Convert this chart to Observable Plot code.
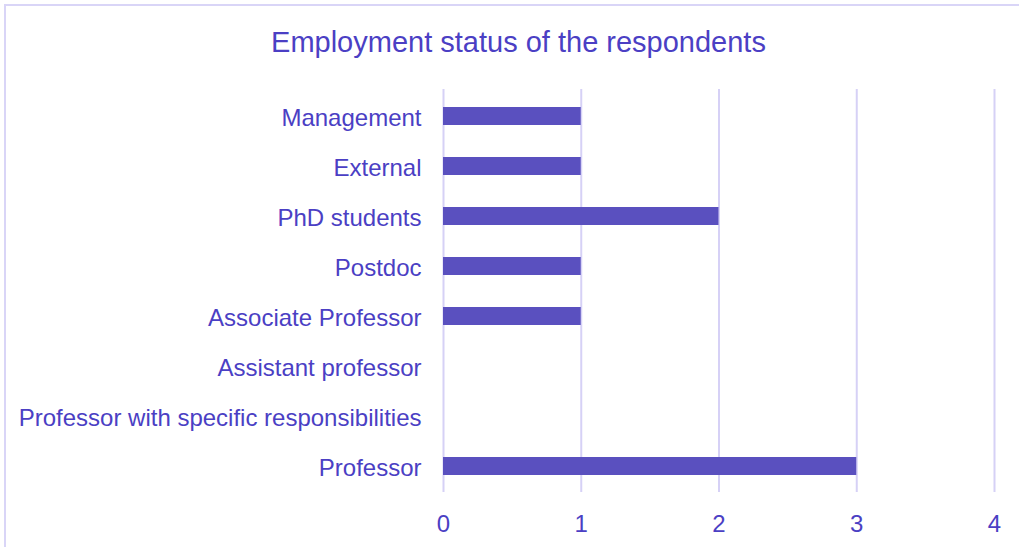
<!DOCTYPE html>
<html>
<head>
<meta charset="utf-8">
<script src="https://cdn.jsdelivr.net/npm/d3@7"></script>
<script src="https://cdn.jsdelivr.net/npm/@observablehq/plot@0.6"></script>
<style>
  html, body { margin: 0; padding: 0; background: #fff; }
  body { width: 1019px; height: 547px; overflow: hidden; position: relative; font-family: "Liberation Sans", Arial, sans-serif; }
  #frame { position: absolute; left: 4px; top: 4px; width: 1100px; height: 600px; border-top: 2px solid #d9d5f7; border-left: 2px solid #d9d5f7; pointer-events: none; }
  #title { height: 82px; line-height: 84px; text-align: center; font-size: 29px; color: #4b3fc4; padding-left: 18px; }
  #chart svg { display: block; }
</style>
</head>
<body>
<div id="frame"></div>
<div id="title">Employment status of the respondents</div>
<div id="chart"></div>
<script>
const categories = [
  "Management",
  "External",
  "PhD students",
  "Postdoc",
  "Associate Professor",
  "Assistant professor",
  "Professor with specific responsibilities",
  "Professor"
];
const counts = [1, 1, 2, 1, 1, 0, 0, 3];
const xTicks = [0, 1, 2, 3, 4];

const data = categories.map((c, i) => ({category: c, count: counts[i]}));
const textColor = "#4b3fc4";
const barColor = "#5a50bf";
const gridColor = "#d6d1f6";

const chart = Plot.plot({
  width: 1019,
  height: 465,
  marginLeft: 443,
  marginRight: 25,
  marginTop: 7,
  marginBottom: 55,
  style: {fontFamily: '"Liberation Sans", Arial, sans-serif', fontSize: "24px", color: textColor, background: "transparent"},
  x: {domain: [0, 4], ticks: xTicks, label: null},
  y: {domain: categories, padding: 0, label: null},
  marks: [
    Plot.ruleX(xTicks, {stroke: gridColor, strokeWidth: 2}),
    Plot.barX(data.filter(d => d.count > 0), {x: "count", y: "category", fill: barColor, insetTop: 16, insetBottom: 16}),
    Plot.axisX({ticks: xTicks, tickFormat: d3.format("d"), tickSize: 0, tickPadding: 22, fill: textColor, fontSize: 24, label: null}),
    Plot.axisY({tickSize: 0, tickPadding: 22, dy: 2, fill: textColor, fontSize: 24, label: null})
  ]
});
document.getElementById("chart").appendChild(chart);
</script>
</body>
</html>
